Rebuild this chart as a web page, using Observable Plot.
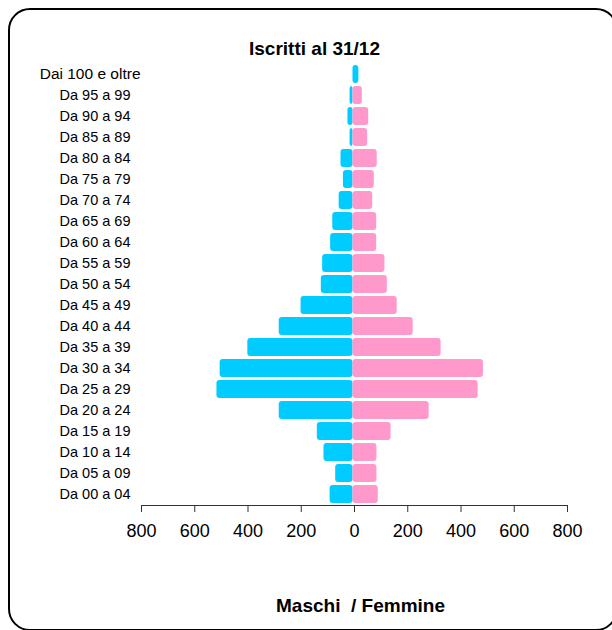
<!DOCTYPE html>
<html>
<head>
<meta charset="utf-8">
<script src="https://cdn.jsdelivr.net/npm/d3@7"></script>
<script src="https://cdn.jsdelivr.net/npm/@observablehq/plot@0.6"></script>
<style>
  html, body { margin: 0; padding: 0; background: #fff; overflow: hidden; }
  #wrap { position: relative; width: 612px; height: 630px; overflow: hidden; }
  #border { position: absolute; left: 8px; top: 8px; width: 606px; height: 619px;
            border: 2px solid #000; border-radius: 22px; pointer-events: none; }
  #chart { position: absolute; left: 0; top: 0; }
</style>
</head>
<body>
<div id="wrap">
  <div id="chart"></div>
  <div id="border"></div>
</div>
<script>
const ages = [
  "Dai 100 e oltre", "Da 95 a 99", "Da 90 a 94", "Da 85 a 89", "Da 80 a 84",
  "Da 75 a 79", "Da 70 a 74", "Da 65 a 69", "Da 60 a 64", "Da 55 a 59",
  "Da 50 a 54", "Da 45 a 49", "Da 40 a 44", "Da 35 a 39", "Da 30 a 34",
  "Da 25 a 29", "Da 20 a 24", "Da 15 a 19", "Da 10 a 14", "Da 05 a 09", "Da 00 a 04"
];
// Maschi (drawn to the left). The top bar in the reference appears on the right side.
const maschi = [-22, 11, 19, 11, 45, 36, 52, 76, 84, 114, 119, 195, 277, 395, 499, 511, 277, 134, 109, 65, 86];
const femmine = [0, 35, 59, 55, 91, 80, 74, 89, 89, 120, 129, 166, 226, 331, 490, 470, 286, 143, 90, 90, 95];
const xTicks = [-800, -600, -400, -200, 0, 200, 400, 600, 800];
const title = "Iscritti al 31/12";
const caption = "Maschi  / Femmine";

const rows = ages.map((age, i) => ({age, m: maschi[i], f: femmine[i]}));
const font = "'Liberation Sans', Arial, Helvetica, sans-serif";

const chart = Plot.plot({
  width: 612,
  height: 630,
  marginLeft: 141,
  marginRight: 45,
  marginTop: 62.5,
  marginBottom: 125,
  style: {fontFamily: font, background: "transparent", color: "#000"},
  x: {domain: [-800, 800]},
  y: {domain: ages, paddingInner: 0.12, paddingOuter: 0.06},
  marks: [
    Plot.barX(rows, {y: "age", x1: 0, x2: d => -d.m, fill: "#00CCFF", rx: 3, dx: -1.5}),
    Plot.barX(rows, {y: "age", x1: 0, x2: "f", fill: "#FF99CC", rx: 3, dx: -1.5}),
    Plot.frame({anchor: "bottom", stroke: "#333"}),
    Plot.axisX({ticks: xTicks, tickFormat: d => Math.abs(d), tickSize: 7, tickPadding: 12,
                fontSize: 18, stroke: "#333", label: null}),
    Plot.axisY({ticks: ages.slice(1), tickSize: 0, tickPadding: 11, fontSize: 14.5, label: null}),
    Plot.axisY({ticks: [ages[0]], tickSize: 0, tickPadding: 1, fontSize: 15.5, label: null}),
    Plot.text([title], {frameAnchor: "top", text: d => d, dx: -40, dy: -8.5, lineAnchor: "bottom",
                        fontSize: 19, fontWeight: "bold", fill: "#000"}),
    Plot.text([caption], {frameAnchor: "bottom", text: d => d, dx: 6, dy: 106, lineAnchor: "bottom",
                          fontSize: 19, fontWeight: "bold", fill: "#000"})
  ]
});
document.getElementById("chart").appendChild(chart);
</script>
</body>
</html>
